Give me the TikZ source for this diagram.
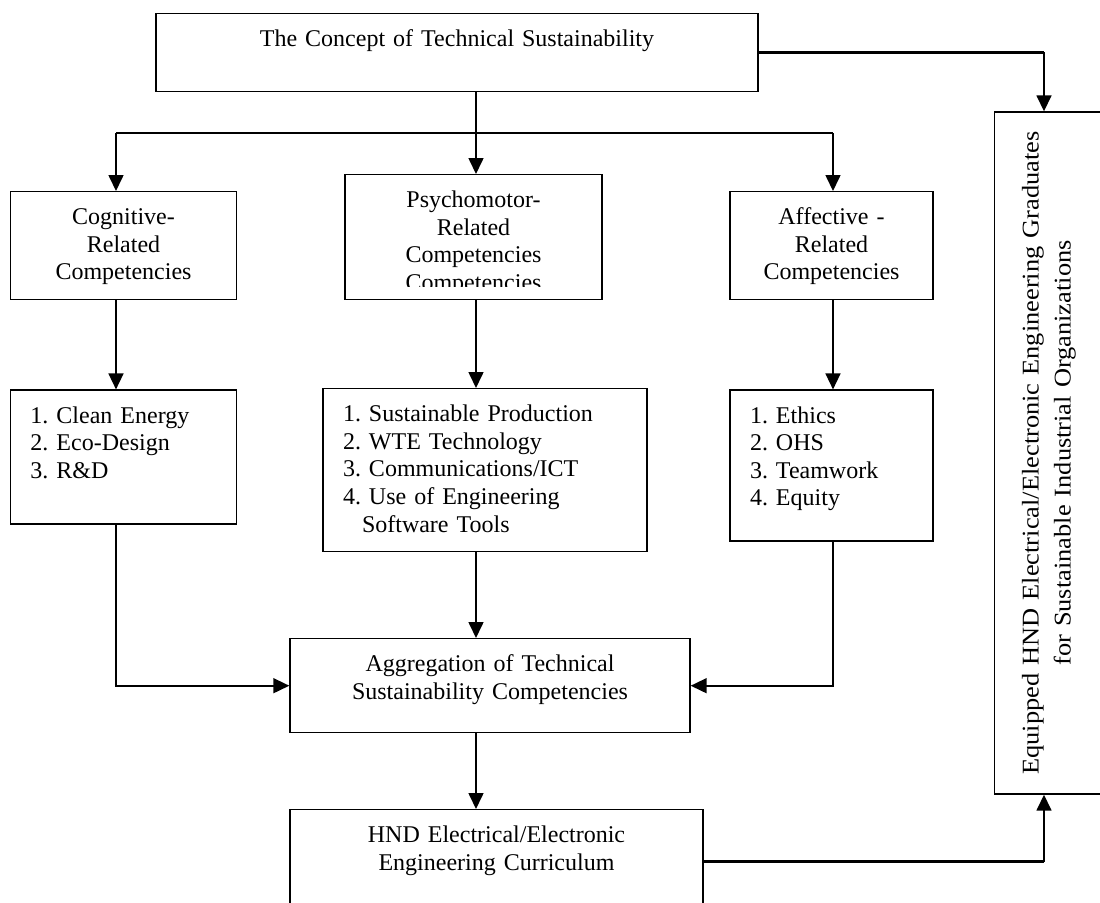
\documentclass[tikz,border=0pt]{standalone}
\usepackage{fontspec}
\setmainfont{Liberation Serif}
\newfontfamily\rotfont[FakeStretch=1.1]{Liberation Serif}
\usetikzlibrary{arrows.meta,positioning}
\frenchspacing

\begin{document}
\begin{tikzpicture}[x=0.5pt,y=-0.5pt,
      box/.style={draw,line width=0.7pt,anchor=north,inner xsep=4pt,inner ysep=8.3pt,
                  text height=8.2pt,align=center,font=\fontsize{12}{13.8}\selectfont},
      list/.style={box,align=left,inner xsep=10pt},
      arr/.style={-{Triangle[length=8pt,width=7.5pt]},line width=0.8pt},
      bar/.style={line width=1.3pt}]
    \useasboundingbox (0,0) rectangle (1100,902);
    \coordinate (colA) at (116,0);
    \coordinate (colB) at (476,0);
    \coordinate (colC) at (833,0);
    \coordinate (colD) at (1044,0);
    \coordinate (split) at (0,133);

    \node[box,text width=293pt,text depth=14.2pt] (concept) at (457,12.7)
      {The Concept of Technical Sustainability};
    \node[box,text width=105pt,text depth=29.2pt] (cog) at (123.5,191)
      {Cognitive-\\Related\\Competencies};
    \node[box,text width=120.5pt,text depth=37.7pt] (psy) at (473.5,174)
      {Psychomotor-\\Related\\Competencies};
    \begin{scope}
      \clip (psy.north west) rectangle (602,286);
      \node[anchor=base,inner sep=0pt,font=\fontsize{12}{13.8}\selectfont] (psyover) at (473.5,290)
        {Competencies};
    \end{scope}
    \node[box,text width=93.5pt,text depth=29.2pt] (aff) at (831.5,191)
      {Affective -\\Related\\Competencies};

    \node[list,text width=93pt,text depth=42.2pt,below=44.5pt of cog] (cogl)
      {1. Clean Energy\\2. Eco-Design\\3. R\&D};
    \node[list,text width=142pt,text depth=56.7pt] (psyl) at (485,388)
      {1. Sustainable Production\\2. WTE Technology\\3. Communications/ICT\\
       4. Use of Engineering\\\hspace*{9.5pt}Software Tools};
    \node[list,text width=81.5pt,text depth=50.7pt,below=44.5pt of aff] (affl)
      {1. Ethics\\2. OHS\\3. Teamwork\\4. Equity};

    \node[box,text width=192pt,text depth=22.2pt] (agg) at (490,638)
      {Aggregation of Technical\\Sustainability Competencies};
    \node[box,text width=198.5pt,text depth=27.2pt] (hnd) at (496.5,809)
      {HND Electrical/Electronic\\Engineering Curriculum};
    \node[box,rotate=90,font=\rotfont\fontsize{12}{16}\selectfont,inner ysep=13.8pt,
          text width=333pt,text depth=24.7pt] (eq) at (994,453)
      {Equipped HND Electrical/Electronic Engineering Graduates\\
       for Sustainable Industrial Organizations};

    \draw[arr] (concept.south -| colB) -- (psy.north -| colB);
    \draw[bar] (colA |- split) -- (colC |- split);
    \draw[arr] (colA |- split) -- (colA |- cog.north);
    \draw[arr] (colC |- split) -- (colC |- aff.north);

    \draw[arr] (cog.south -| colA) -- (cogl.north -| colA);
    \draw[arr] (psy.south -| colB) -- (psyl.north -| colB);
    \draw[arr] (aff.south -| colC) -- (affl.north -| colC);

    \draw[arr] (cogl.south -| colA) |- (agg.west);
    \draw[arr] (psyl.south -| colB) -- (agg.north -| colB);
    \draw[arr] (affl.south -| colC) |- (agg.east);
    \draw[arr] (agg.south -| colB) -- (hnd.north -| colB);

    \draw[bar] (concept.east) -- (concept.east -| colD);
    \draw[arr] (concept.east -| colD) -- (colD |- eq.east);
    \draw[bar] (hnd.east) -- (hnd.east -| colD);
    \draw[arr] (hnd.east -| colD) -- (colD |- eq.west);
  \end{tikzpicture}
\end{document}
